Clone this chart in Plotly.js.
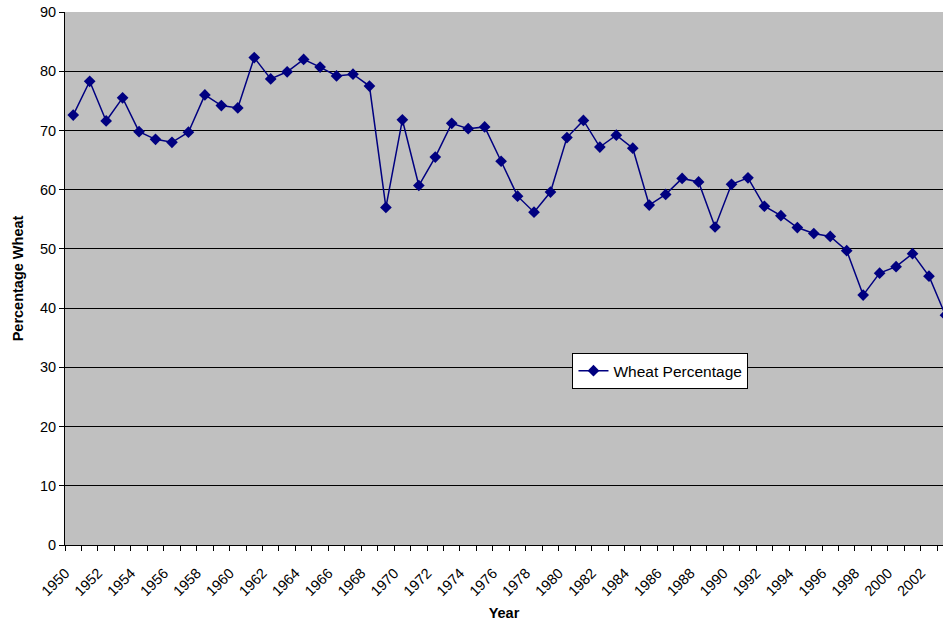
<!DOCTYPE html>
<html>
<head>
<meta charset="utf-8">
<script src="https://cdn.plot.ly/plotly-3.0.1.min.js"></script>
<style>html,body{margin:0;padding:0;background:#fff;}#chart{width:943px;height:623px;}</style>
</head>
<body>
<div id="chart"></div>
<script>
const years = [1950,1951,1952,1953,1954,1955,1956,1957,1958,1959,1960,1961,1962,1963,1964,1965,1966,1967,1968,1969,1970,1971,1972,1973,1974,1975,1976,1977,1978,1979,1980,1981,1982,1983,1984,1985,1986,1987,1988,1989,1990,1991,1992,1993,1994,1995,1996,1997,1998,1999,2000,2001,2002,2003];
const wheatPct = [72.6,78.3,71.6,75.5,69.8,68.5,68.0,69.7,76.0,74.2,73.8,82.3,78.7,79.9,82.0,80.7,79.2,79.5,77.5,57.0,71.8,60.7,65.5,71.2,70.3,70.6,64.8,58.9,56.2,59.6,68.8,71.7,67.2,69.2,67.0,57.4,59.2,61.9,61.3,53.7,60.9,62.0,57.2,55.6,53.6,52.6,52.1,49.7,42.2,45.9,47.0,49.2,45.4,38.8];
const tickYears = [1950,1952,1954,1956,1958,1960,1962,1964,1966,1968,1970,1972,1974,1976,1978,1980,1982,1984,1986,1988,1990,1992,1994,1996,1998,2000,2002];
const tickLabels = tickYears.map(String);
const yTicks = [0,10,20,30,40,50,60,70,80,90];

const xRange = [1949.5, 1949.5 + 878/16.457];

const trace = {
  x: years, y: wheatPct, type: 'scatter', mode: 'lines+markers',
  name: 'Wheat Percentage',
  line: {color: '#000080', width: 1.5},
  marker: {symbol: 'diamond', size: 9, color: '#000080'}
};
const dummy = {x: years, y: wheatPct, xaxis: 'x2', type: 'scatter', mode: 'none', showlegend: false, hoverinfo: 'skip'};

const layout = {
  width: 943, height: 623,
  margin: {l: 65, r: 0, t: 12, b: 78, pad: 0},
  paper_bgcolor: '#ffffff', plot_bgcolor: '#c0c0c0',
  font: {family: 'Liberation Sans, Arial, sans-serif', color: '#000', size: 14},
  showlegend: true,
  legend: {x: 0.578, y: 0.36, xanchor: 'left', yanchor: 'top', bgcolor: '#ffffff', bordercolor: '#000', borderwidth: 1,
           font: {size: 15.5, family: 'Liberation Sans, Arial, sans-serif'}},
  xaxis: {
    range: xRange, type: 'linear', tickmode: 'array', tickvals: tickYears, ticktext: tickLabels,
    tickangle: -45, ticks: '', showgrid: false, zeroline: false, showline: true, linecolor: '#000', linewidth: 1,
    ticklabelstandoff: 13, ticklabelshift: -8,
    tickfont: {size: 14.5}, title: {text: 'Year', font: {size: 14.5, weight: 'bold'}, standoff: 9}, automargin: false
  },
  xaxis2: {
    range: xRange, overlaying: 'x', side: 'bottom', type: 'linear', tickmode: 'linear', tick0: 1949.5, dtick: 1,
    ticks: 'outside', ticklen: 5, tickcolor: '#000', showticklabels: false, showgrid: false, zeroline: false, showline: false
  },
  yaxis: {
    range: [0, 90], tickmode: 'array', tickvals: yTicks, ticks: 'outside', ticklen: 5, tickcolor: '#000',
    showgrid: true, gridcolor: '#000', gridwidth: 1, zeroline: false, showline: true, linecolor: '#000', linewidth: 1,
    tickfont: {size: 14.5}, title: {text: 'Percentage Wheat', font: {size: 14.5, weight: 'bold'}, standoff: 12}, automargin: false
  }
};
Plotly.newPlot('chart', [trace, dummy], layout, {displayModeBar: false, staticPlot: true});
</script>
</body>
</html>
